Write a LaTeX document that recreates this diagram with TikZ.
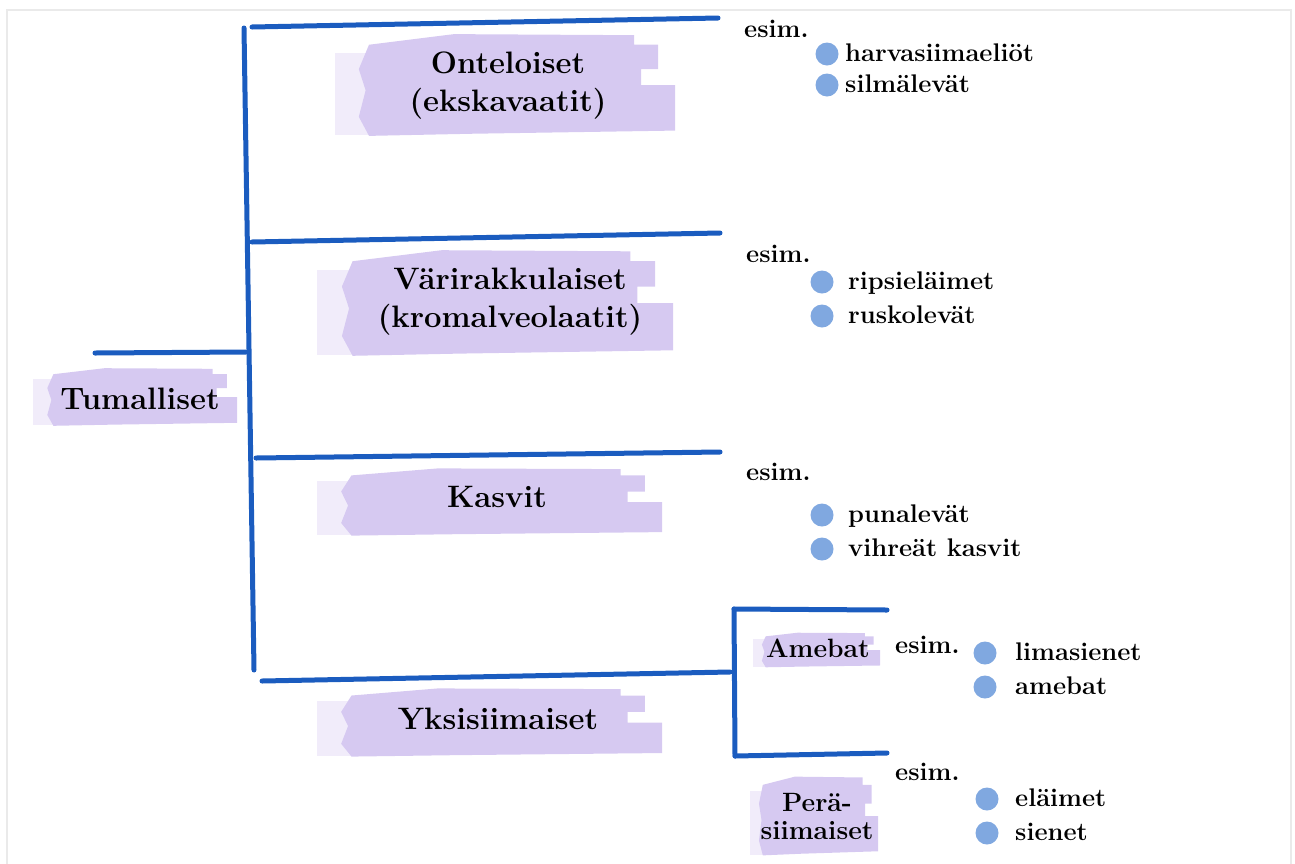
\documentclass[tikz,border=0pt]{standalone}
\usepackage{fontspec}
\usepackage{tikz}
\usetikzlibrary{calc}

\definecolor{lineblue}{HTML}{1B5CBF}
\definecolor{brushlilac}{HTML}{D6C9F1}
\definecolor{dotblue}{HTML}{80A8E0}
\definecolor{framegray}{HTML}{EAEAEA}

% painted background behind a label: box from (#1,#2) to (#3,#4)
\newcommand{\brush}[4]{%
  \begin{scope}[shift={(#1,#2)}, xscale={#3-#1}, yscale={#4-#2}]
    \fill[brushlilac, opacity=.35] (0,.20) rectangle (.14,.97);
    \fill[brushlilac]
      (.10,.12) -- (.35,.02) -- (.88,.03) -- (.88,.12) -- (.95,.12) -- (.95,.35)
      -- (.90,.35) -- (.90,.50) -- (1,.50) -- (1,.93) -- (.40,.96) -- (.10,.98)
      -- (.07,.80) -- (.09,.55) -- (.07,.35) -- cycle;
  \end{scope}}

\begin{document}
\begin{tikzpicture}[x=1pt, y=-1pt,
  branch/.style={draw=lineblue, line width=5pt, line cap=round},
  group/.style={font=\fontsize{31}{38}\selectfont\bfseries, align=center, inner sep=0pt},
  subgroup/.style={font=\fontsize{26.5}{28}\selectfont\bfseries, align=center, inner sep=0pt},
  example/.style={font=\fontsize{25.5}{28}\selectfont\bfseries, anchor=base west, inner sep=0pt},
  dot/.style={circle, fill=dotblue, minimum size=23pt, inner sep=0pt}]

  \useasboundingbox (0,0) rectangle (1295,863);
  \draw[framegray, line width=1.2pt] (7,870) -- (7,10) -- (1291,10) -- (1291,870);

  % =========================
  % label backgrounds
  % =========================
  \brush{33}{367}{237}{427}
  \brush{335}{32}{675}{138}
  \brush{317}{248}{673}{358}
  \brush{317}{467}{662}{537}
  \brush{317}{687}{662}{758}
  \brush{753}{632}{880}{668}
  \brush{750}{775}{878}{857}

  % =========================
  % groups
  % =========================
  \node[group] (tum) at (140,399) {Tumalliset};
  \node[group] (ont) at (508,86) {Onteloiset\\(ekskavaatit)};
  \node[group] (var) at (510,302) {Värirakkulaiset\\(kromalveolaatit)};
  \node[group] (kas) at (497,497) {Kasvit};
  \node[group] (yks) at (498,719) {Yksisiimaiset};
  \node[subgroup] (ame) at (818,648) {Amebat};
  \node[subgroup] (pera) at (817,816) {Perä-\\siimaiset};

  % =========================
  % tree lines
  % =========================
  \coordinate (rootL) at (95,353);
  \coordinate (rootR) at (246,352);
  \coordinate (spineT) at (244,28);
  \coordinate (spineB) at (254,670);
  \draw[branch] (rootL) -- (rootR);
  \draw[branch] (spineT) -- (spineB);

  \coordinate (ontL) at (252,27);  \coordinate (ontR) at (718,18);
  \coordinate (varL) at (252,242); \coordinate (varR) at (720,233);
  \coordinate (kasL) at (256,458); \coordinate (kasR) at (720,452);
  \coordinate (yksL) at (262,681); \coordinate (yksR) at (730,672);
  \draw[branch] (ontL) -- (ontR);
  \draw[branch] (varL) -- (varR);
  \draw[branch] (kasL) -- (kasR);
  \draw[branch] (yksL) -- (yksR);

  % sub bracket of Yksisiimaiset
  \coordinate (subT) at (734,609);
  \coordinate (subB) at (735,756);
  \coordinate (ameR) at (887,610);
  \coordinate (peraR) at (887,753);
  \draw[branch] (subT) -- (subB);
  \draw[branch] (subT) -- (ameR);
  \draw[branch] (subB) -- (peraR);

  % =========================
  % examples
  % =========================
  \foreach \x/\y/\nm in {744/37/e1, 746/262/e2, 746/480/e3, 895/653/e4, 895/780/e5}{
    \node[example] (\nm) at (\x,\y) {esim.};
  }

  \foreach \x/\y/\tx/\lab/\nm in {
      827/54/845/harvasiimaeliöt/o1, 827/85/845/silmälevät/o2,
      822/282/848/ripsieläimet/v1, 822/316/848/ruskolevät/v2,
      822/515/848/punalevät/k1, 822/549/848/vihreät kasvit/k2,
      985/653/1015/limasienet/a1, 985/687/1015/amebat/a2,
      987/799/1015/eläimet/p1, 987/833/1015/sienet/p2}{
    \node[dot] (\nm) at (\x,\y) {};
    \node[example] (\nm-t) at (\tx,\y+7) {\lab};
  }

\end{tikzpicture}
\end{document}
